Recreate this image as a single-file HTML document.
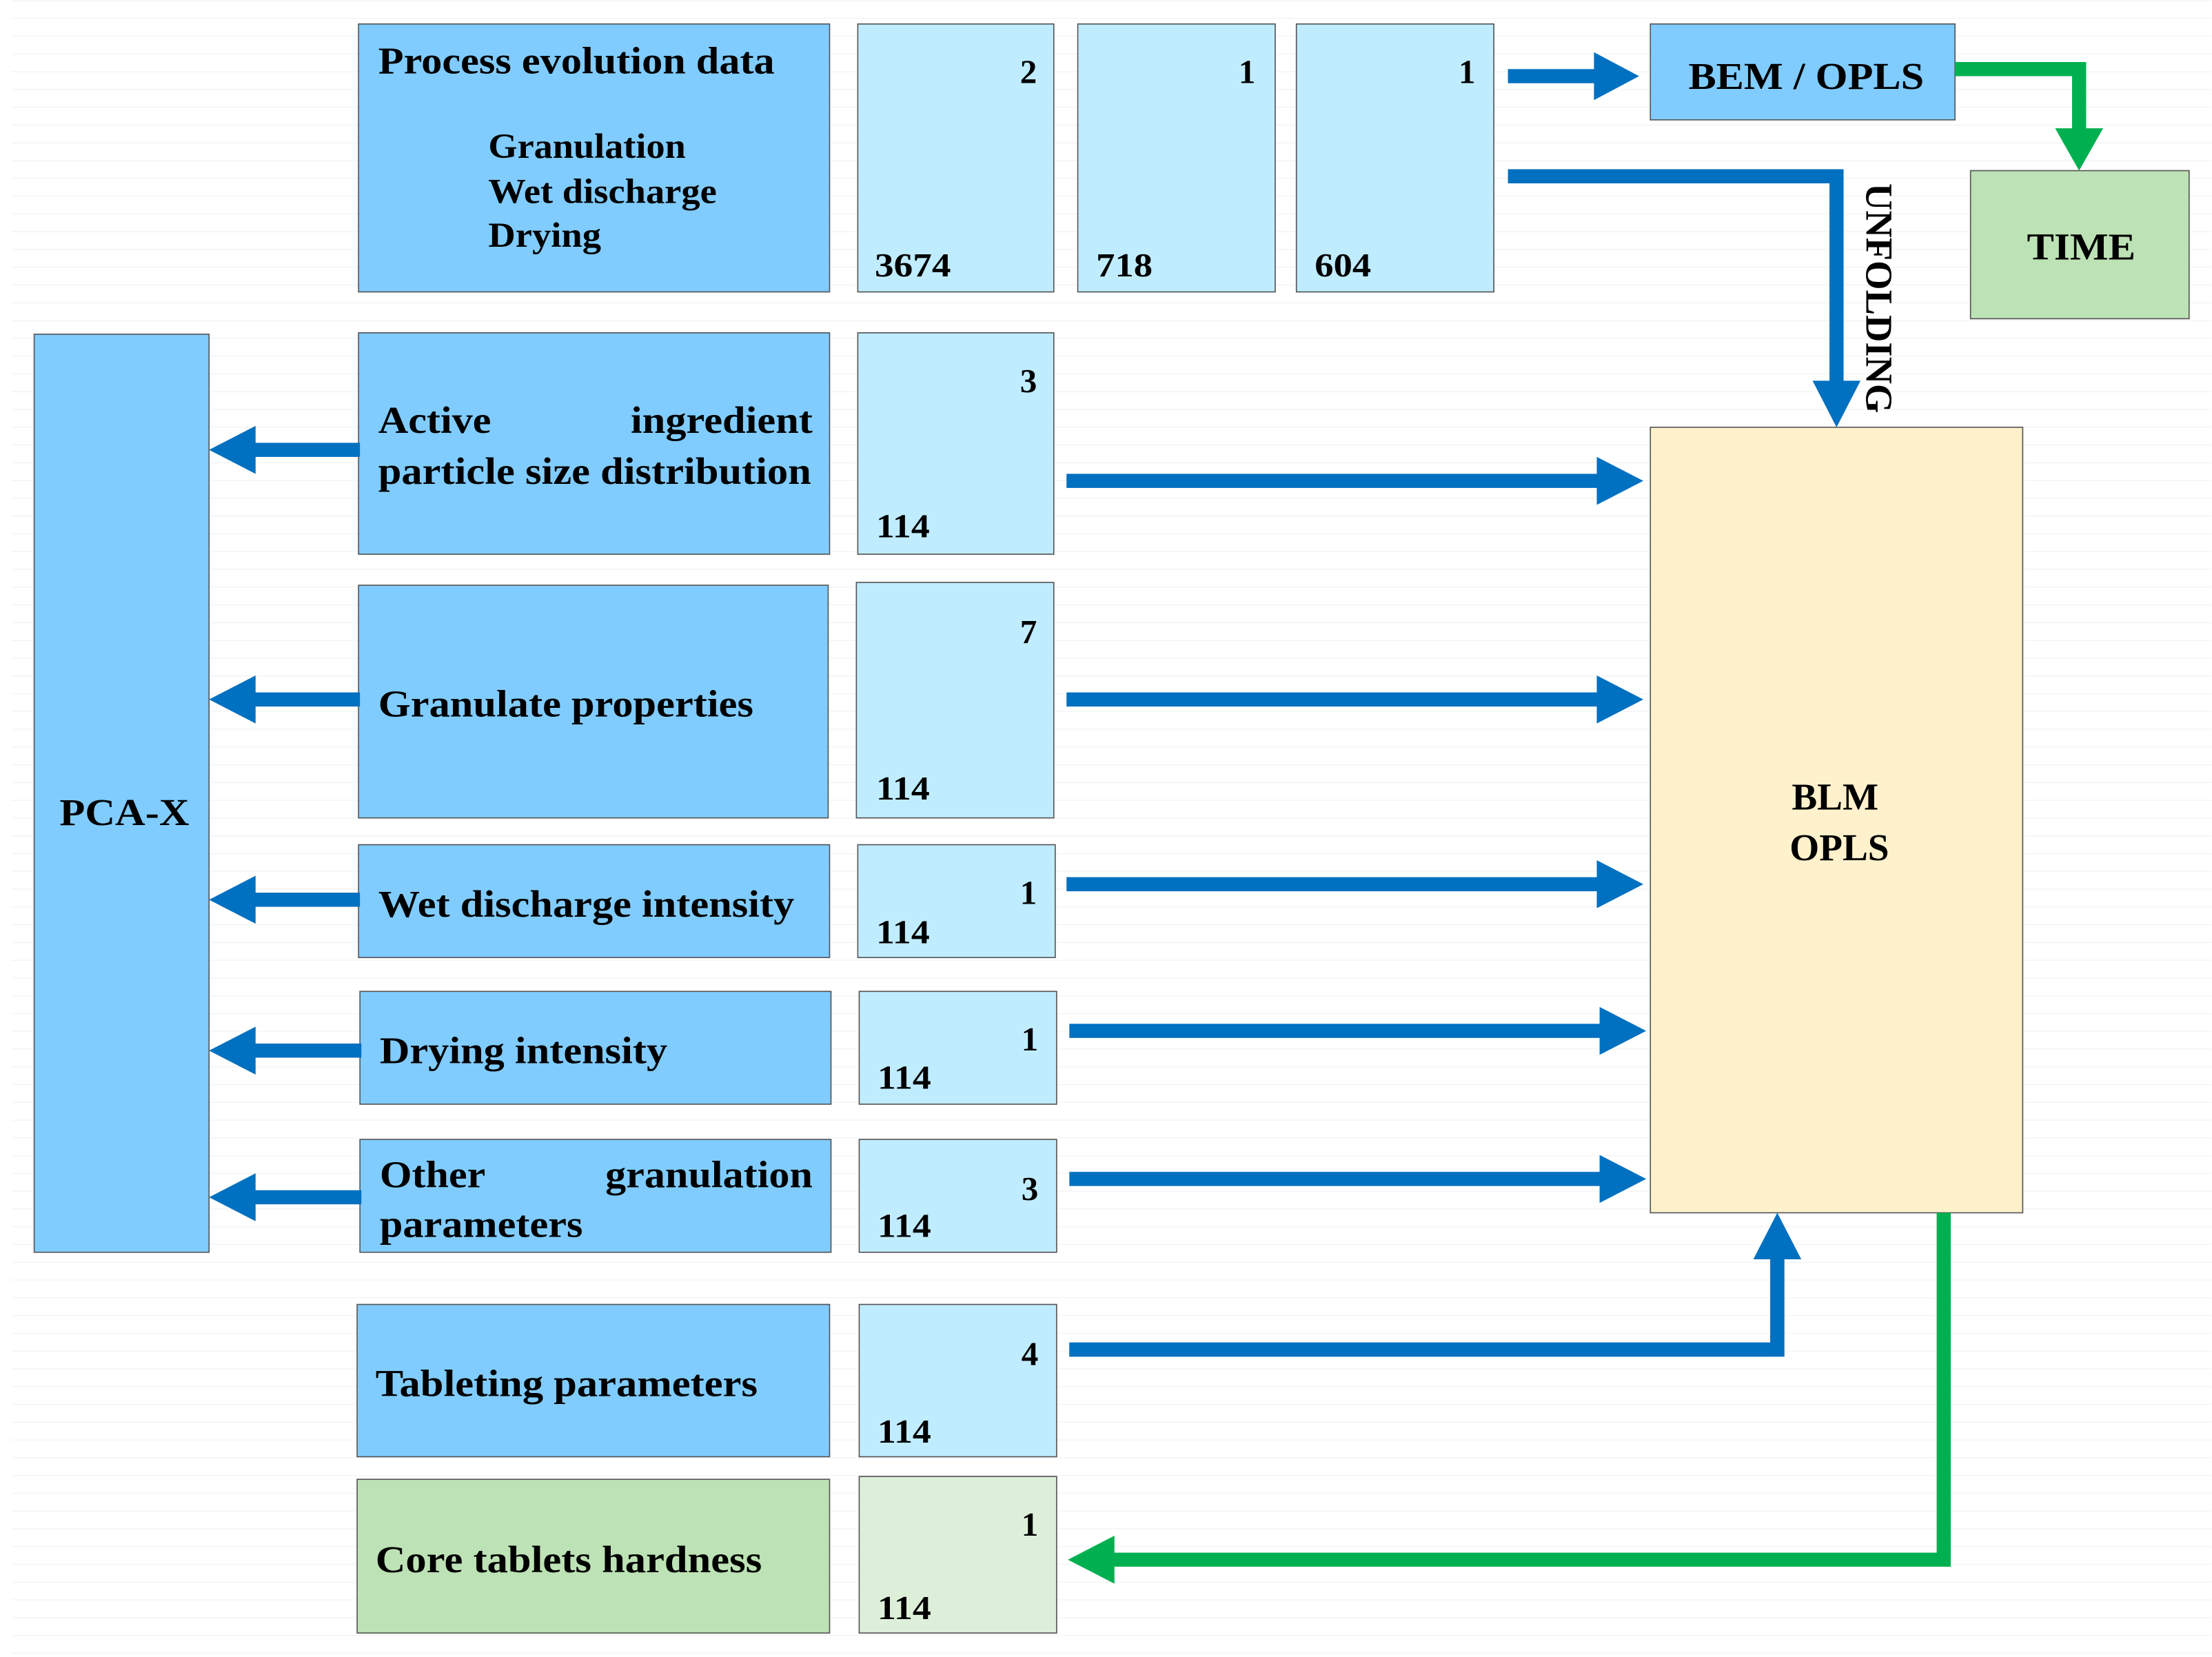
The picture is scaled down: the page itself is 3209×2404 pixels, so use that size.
<!DOCTYPE html>
<html><head><meta charset="utf-8"><style>
html,body{margin:0;padding:0;background:#fff;}
svg{display:block;}
text{font-family:"Liberation Serif",serif;font-weight:bold;fill:#000;}
</style></head><body>
<svg width="3209" height="2404" viewBox="0 0 1568 1175" xmlns="http://www.w3.org/2000/svg">
<defs>
<pattern id="bg" width="1568" height="12.6" patternUnits="userSpaceOnUse"><line x1="0" y1="0.5" x2="1568" y2="0.5" stroke="#f2f2f2" stroke-width="0.6"/></pattern>
</defs>
<rect x="8" y="0" width="1560" height="1175" fill="url(#bg)"/>
<g stroke="#555" stroke-width="0.8">
<rect x="254" y="17" width="334" height="190" fill="#80ccff"/>
<rect x="608" y="17" width="139" height="190" fill="#c0ecff"/>
<rect x="764" y="17" width="140" height="190" fill="#c0ecff"/>
<rect x="919" y="17" width="140" height="190" fill="#c0ecff"/>
<rect x="1170" y="17" width="216" height="68" fill="#80ccff"/>
<rect x="1397" y="121" width="155" height="105" fill="#bde2b5"/>
<rect x="24" y="237" width="124" height="651" fill="#80ccff"/>
<rect x="254" y="236" width="334" height="157" fill="#80ccff"/>
<rect x="608" y="236" width="139" height="157" fill="#c0ecff"/>
<rect x="254" y="415" width="333" height="165" fill="#80ccff"/>
<rect x="607" y="413" width="140" height="167" fill="#c0ecff"/>
<rect x="254" y="599" width="334" height="80" fill="#80ccff"/>
<rect x="608" y="599" width="140" height="80" fill="#c0ecff"/>
<rect x="255" y="703" width="334" height="80" fill="#80ccff"/>
<rect x="609" y="703" width="140" height="80" fill="#c0ecff"/>
<rect x="255" y="808" width="334" height="80" fill="#80ccff"/>
<rect x="609" y="808" width="140" height="80" fill="#c0ecff"/>
<rect x="253" y="925" width="335" height="108" fill="#80ccff"/>
<rect x="609" y="925" width="140" height="108" fill="#c0ecff"/>
<rect x="253" y="1049" width="335" height="109" fill="#bde2b5"/>
<rect x="609" y="1047" width="140" height="111" fill="#ddefd9"/>
<rect x="1170" y="303" width="264" height="557" fill="#fff1cc"/>
</g>
<g fill="#0070c0">
<!-- left arrows -->
<rect x="178" y="314" width="77" height="10"/><polygon points="148,319 181,302 181,336"/>
<rect x="178" y="491" width="77" height="10"/><polygon points="148,496 181,479 181,513"/>
<rect x="178" y="633" width="77" height="10"/><polygon points="148,638 181,621 181,655"/>
<rect x="178" y="740" width="78" height="10"/><polygon points="148,745 181,728 181,762"/>
<rect x="178" y="844" width="78" height="10"/><polygon points="148,849 181,832 181,866"/>
<!-- right arrows -->
<rect x="756" y="336" width="380" height="10"/><polygon points="1165,341 1132,324 1132,358"/>
<rect x="756" y="491" width="380" height="10"/><polygon points="1165,496 1132,479 1132,513"/>
<rect x="756" y="622" width="380" height="10"/><polygon points="1165,627 1132,610 1132,644"/>
<rect x="758" y="726" width="380" height="10"/><polygon points="1167,731 1134,714 1134,748"/>
<rect x="758" y="831" width="380" height="10"/><polygon points="1167,836 1134,819 1134,853"/>
<!-- tableting -->
<path d="M758,952 H1265 V890 H1255 V962 H758 Z"/>
<rect x="758" y="952" width="507" height="10"/><rect x="1255" y="888" width="10" height="74"/>
<polygon points="1260,860 1243,893 1277,893"/>
<!-- top -->
<rect x="1069" y="49" width="66" height="10"/><polygon points="1162,54 1130,37 1130,71"/>
<path d="M1069,120 H1307 V275 H1297 V130 H1069 Z"/>
<polygon points="1302,303 1285,270 1319,270"/>
</g>
<g fill="#00b050">
<path d="M1386,44 H1479 V95 H1469 V54 H1386 Z"/>
<polygon points="1474,121 1457,91 1491,91"/>
<path d="M1373,860 H1383 V1111 H786 V1101 H1373 Z"/>
<polygon points="757,1106 790,1089 790,1123"/>
</g>
<g font-size="27">
<text x="268" y="52" textLength="281" lengthAdjust="spacingAndGlyphs">Process evolution data</text>
<text x="346" y="112" font-size="25" textLength="140" lengthAdjust="spacingAndGlyphs">Granulation</text>
<text x="346" y="144" font-size="25" textLength="162" lengthAdjust="spacingAndGlyphs">Wet discharge</text>
<text x="346" y="175" font-size="25" textLength="80" lengthAdjust="spacingAndGlyphs">Drying</text>
<text x="1197" y="63" textLength="167" lengthAdjust="spacingAndGlyphs">BEM / OPLS</text>
<text x="1437" y="184" textLength="77" lengthAdjust="spacingAndGlyphs">TIME</text>
<text x="268" y="307" textLength="80" lengthAdjust="spacingAndGlyphs">Active</text>
<text x="447" y="307" textLength="129" lengthAdjust="spacingAndGlyphs">ingredient</text>
<text x="268" y="343" textLength="307" lengthAdjust="spacingAndGlyphs">particle size distribution</text>
<text x="268" y="508" textLength="266" lengthAdjust="spacingAndGlyphs">Granulate properties</text>
<text x="268" y="650" textLength="295" lengthAdjust="spacingAndGlyphs">Wet discharge intensity</text>
<text x="269" y="754" textLength="204" lengthAdjust="spacingAndGlyphs">Drying intensity</text>
<text x="269" y="842" textLength="75" lengthAdjust="spacingAndGlyphs">Other</text>
<text x="429" y="842" textLength="147" lengthAdjust="spacingAndGlyphs">granulation</text>
<text x="269" y="877" textLength="144" lengthAdjust="spacingAndGlyphs">parameters</text>
<text x="266" y="990" textLength="271" lengthAdjust="spacingAndGlyphs">Tableting parameters</text>
<text x="266" y="1115" textLength="274" lengthAdjust="spacingAndGlyphs">Core tablets hardness</text>
<text x="42" y="585" textLength="92" lengthAdjust="spacingAndGlyphs">PCA-X</text>
<text x="1301" y="574" text-anchor="middle">BLM</text>
<text x="1304" y="610" text-anchor="middle" font-weight="normal">OPLS</text>
<text transform="translate(1323,130) rotate(90)" x="0" y="0" textLength="163" lengthAdjust="spacingAndGlyphs">UNFOLDING</text>
</g>
<g font-size="24">
<text x="735" y="59" text-anchor="end">2</text>
<text x="890" y="59" text-anchor="end">1</text>
<text x="1046" y="59" text-anchor="end">1</text>
<text x="620" y="196" textLength="54" lengthAdjust="spacingAndGlyphs">3674</text>
<text x="777" y="196" textLength="40" lengthAdjust="spacingAndGlyphs">718</text>
<text x="932" y="196" textLength="40" lengthAdjust="spacingAndGlyphs">604</text>
<text x="735" y="278" text-anchor="end">3</text>
<text x="621" y="381" textLength="38" lengthAdjust="spacingAndGlyphs">114</text>
<text x="735" y="456" text-anchor="end">7</text>
<text x="621" y="567" textLength="38" lengthAdjust="spacingAndGlyphs">114</text>
<text x="735" y="641" text-anchor="end">1</text>
<text x="621" y="669" textLength="38" lengthAdjust="spacingAndGlyphs">114</text>
<text x="736" y="745" text-anchor="end">1</text>
<text x="622" y="772" textLength="38" lengthAdjust="spacingAndGlyphs">114</text>
<text x="736" y="851" text-anchor="end">3</text>
<text x="622" y="877" textLength="38" lengthAdjust="spacingAndGlyphs">114</text>
<text x="736" y="968" text-anchor="end">4</text>
<text x="622" y="1023" textLength="38" lengthAdjust="spacingAndGlyphs">114</text>
<text x="736" y="1089" text-anchor="end">1</text>
<text x="622" y="1148" textLength="38" lengthAdjust="spacingAndGlyphs">114</text>
</g>
</svg>
</body></html>
